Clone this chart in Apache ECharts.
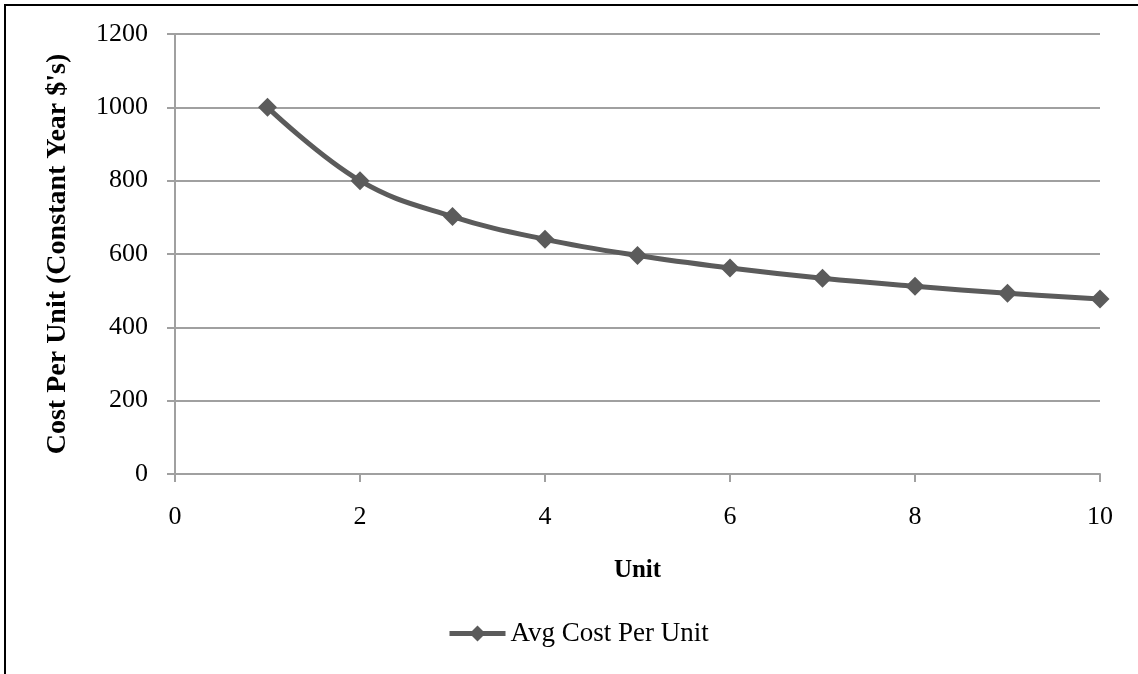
<!DOCTYPE html>
<html><head><meta charset="utf-8">
<script src="https://cdn.jsdelivr.net/npm/echarts@6/dist/echarts.min.js"></script>
<style>html,body{margin:0;padding:0;background:#fff}#c{width:1138px;height:674px}</style>
</head><body><div id="c"></div>
<script>
const units = [1, 2, 3, 4, 5, 6, 7, 8, 9, 10];
const avgCost = [1000, 800, 702, 640, 596, 562, 534, 512, 493, 477];
const seriesName = 'Avg Cost Per Unit';
const xTitle = 'Unit';
const yTitle = "Cost Per Unit (Constant Year $'s)";

const font = 'Liberation Serif';
const chart = echarts.init(document.getElementById('c'));
chart.setOption({
  animation: false,
  backgroundColor: '#fff',
  graphic: [{type: 'rect', shape: {x: 5, y: 5, width: 1300, height: 900}, style: {fill: 'none', stroke: '#000', lineWidth: 2}, z: -1}],
  grid: {left: 175, right: 38, top: 34, bottom: 200},
  legend: {
    bottom: 22, left: 442,
    itemWidth: 56, itemHeight: 20, itemGap: 6,
    lineStyle: {width: 5},
    textStyle: {fontFamily: font, fontSize: 27, color: '#000'},
    data: [seriesName]
  },
  xAxis: {
    type: 'value', min: 0, max: 10, interval: 2,
    name: xTitle, nameLocation: 'middle', nameGap: 84,
    nameTextStyle: {fontFamily: font, fontSize: 25, fontWeight: 'bold', color: '#000'},
    axisLine: {lineStyle: {color: '#a0a0a0', width: 2}},
    axisTick: {show: true, length: 8, lineStyle: {color: '#a0a0a0', width: 2}},
    axisLabel: {fontFamily: font, fontSize: 26, color: '#000', margin: 30},
    splitLine: {show: false}
  },
  yAxis: {
    type: 'value', min: 0, max: 1200, interval: 200,
    name: yTitle, nameLocation: 'middle', nameGap: 103, nameRotate: 90,
    nameTextStyle: {fontFamily: font, fontSize: 28, fontWeight: 'bold', color: '#000'},
    axisLine: {show: true, lineStyle: {color: '#a0a0a0', width: 2}},
    axisTick: {show: true, length: 8, lineStyle: {color: '#a0a0a0', width: 2}},
    axisLabel: {fontFamily: font, fontSize: 26, color: '#000', margin: 27, formatter: v => String(v)},
    splitLine: {lineStyle: {color: '#a0a0a0', width: 2}}
  },
  series: [{
    name: seriesName, type: 'line', smooth: 0.4,
    data: units.map((u, i) => [u, avgCost[i]]),
    symbol: 'diamond', symbolSize: 19,
    lineStyle: {color: '#5b5b5b', width: 5},
    itemStyle: {color: '#5b5b5b'}
  }]
});
</script></body></html>
